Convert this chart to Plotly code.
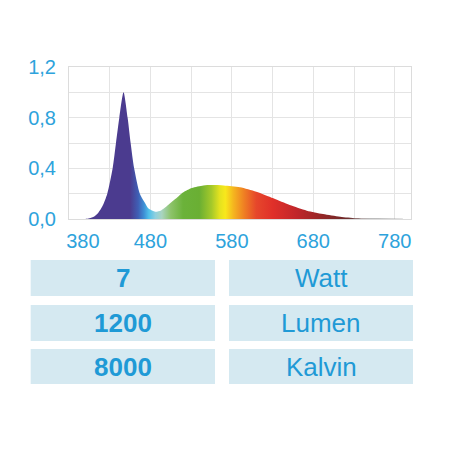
import plotly.graph_objects as go

# spectrum (nm, relative intensity)
wavelength = [380, 400, 405, 411, 416, 421, 427, 433.6, 437.7, 441.8, 447, 452, 455.7,
              460, 467, 473, 478, 486, 493, 500, 510, 520, 531, 545, 555, 570, 590,
              610, 631, 651, 672, 692, 713, 733, 760, 790]
intensity = [0.0, 0.0, 0.005, 0.02, 0.05, 0.1, 0.2, 0.4, 0.6, 0.8, 1.0, 0.8, 0.6,
             0.4, 0.2, 0.13, 0.08, 0.058, 0.068, 0.1, 0.155, 0.21, 0.245, 0.265, 0.268,
             0.265, 0.25, 0.215, 0.163, 0.11, 0.066, 0.039, 0.018, 0.006, 0.003, 0.002]

# colour of the fill along the wavelength
color_nm = [380, 455, 465, 472, 478, 486, 494, 505, 520, 540, 555, 565, 572, 582, 595,
            610, 630, 660, 690, 720, 750, 800]
color_hex = ["#4b3b8f", "#4b3b8f", "#3f5fb5", "#3d8fd5", "#4fc0ea", "#8fd0df", "#a9d4c0",
             "#8dc36a", "#6bb23a", "#6aaf33", "#a5c92a", "#e4e21f", "#f8e81c", "#f5b51f",
             "#ef7f23", "#e6472b", "#e03029", "#c0262a", "#952626", "#6e2a2a", "#777777",
             "#999999"]

x_ticks = [380, 480, 580, 680, 780]
# first label sits a bit right of the axis corner in the original
x_labels = ["\u00a0" * 5 + "380", "480", "580", "680", "780"]
y_ticks = [0.0, 0.4, 0.8, 1.2]

# spec table
values = ["7", "1200", "8000"]
units = ["Watt", "Lumen", "Kalvin"]

BLUE = "#1f9ad6"
FONT = "Liberation Sans, Arial, sans-serif"

# page body has an 8px margin, so work in window pixels minus that
OFF = 8
W = H = 450 - OFF


def px(v):
    return (v - OFF) / W


x_min, x_max = 380, 800
scale = [[(n - x_min) / (x_max - x_min), c] for n, c in zip(color_nm, color_hex)]

fig = go.Figure()
fig.add_trace(go.Scatter(
    x=wavelength, y=intensity,
    mode="lines",
    line=dict(width=0, shape="spline", smoothing=0.7),
    fill="tozeroy",
    fillgradient=dict(type="horizontal", colorscale=scale, start=x_min, stop=x_max),
    hoverinfo="skip",
))

# table boxes + text
col_x = [(30.7, 215), (229, 413)]
row_y = [(260, 296), (305, 341), (349, 384)]
for i, (y0, y1) in enumerate(row_y):
    for j, (x0, x1) in enumerate(col_x):
        fig.add_shape(type="rect", xref="paper", yref="paper",
                      x0=px(x0), x1=px(x1), y0=1 - px(y1), y1=1 - px(y0),
                      line=dict(width=0), fillcolor="#d5e9f1", layer="below")
    yc = 1 - px((y0 + y1) / 2)
    fig.add_annotation(x=px(sum(col_x[0]) / 2), y=yc, xref="paper", yref="paper",
                       xanchor="center", yanchor="middle",
                       text="<b>%s</b>" % values[i], showarrow=False,
                       font=dict(family=FONT, size=26, color=BLUE))
    fig.add_annotation(x=px(sum(col_x[1]) / 2), y=yc, xref="paper", yref="paper",
                       xanchor="center", yanchor="middle",
                       text=units[i], showarrow=False,
                       font=dict(family=FONT, size=26, color=BLUE))

fig.update_layout(
    width=W, height=H,
    margin=dict(l=0, r=0, t=0, b=0),
    paper_bgcolor="white", plot_bgcolor="white",
    separators=",.",
    showlegend=False,
    font=dict(family=FONT, size=20, color="#2ea3dc"),
)
fig.update_xaxes(
    domain=[px(69), px(411)], range=[x_min, x_max],
    tickvals=x_ticks, ticktext=x_labels, ticks="", showgrid=True, gridcolor="#e4e4e4",
    minor=dict(tick0=380, dtick=50, showgrid=True, gridcolor="#e4e4e4"),
    showline=True, mirror=True, linecolor="#dcdcdc", zeroline=False,
    automargin=False, ticklabelstandoff=4,
)
fig.update_yaxes(
    domain=[1 - px(219), 1 - px(67)], range=[0, 1.2],
    tickvals=y_ticks, tickformat=".1f", ticks="", showgrid=True, gridcolor="#e4e4e4",
    minor=dict(tick0=0, dtick=0.2, showgrid=True, gridcolor="#e4e4e4"),
    showline=True, mirror=True, linecolor="#dcdcdc", zeroline=False,
    automargin=False, ticklabelstandoff=8,
)

fig.write_html("out.html")
